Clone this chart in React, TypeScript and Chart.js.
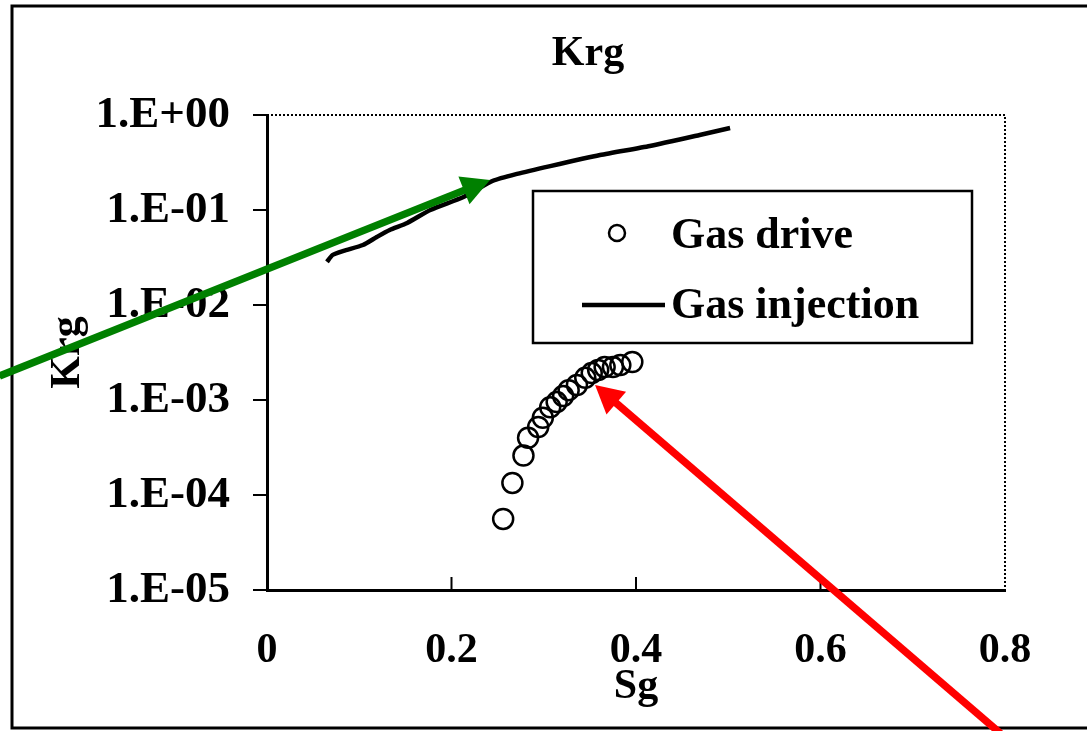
import React, { useEffect, useRef } from "react";
import { Chart, registerables } from "chart.js";

Chart.register(...registerables);

// ---- data ----
const sgDrive = [0.256, 0.266, 0.278, 0.283, 0.294, 0.299, 0.307, 0.314, 0.321, 0.327, 0.336, 0.345, 0.352, 0.359, 0.366, 0.375, 0.383, 0.396];
const krgDrive = [5.6e-5, 1.34e-4, 2.6e-4, 4.0e-4, 5.2e-4, 6.5e-4, 8.4e-4, 9.5e-4, 1.1e-3, 1.27e-3, 1.44e-3, 1.71e-3, 1.92e-3, 2.07e-3, 2.22e-3, 2.22e-3, 2.33e-3, 2.51e-3];

const sgInjection = [0.065, 0.071, 0.083, 0.104, 0.119, 0.133, 0.152, 0.177, 0.213, 0.245, 0.271, 0.307, 0.361, 0.415, 0.469, 0.502];
const krgInjection = [0.0284, 0.0336, 0.0372, 0.0428, 0.052, 0.0616, 0.073, 0.1, 0.137, 0.203, 0.24, 0.29, 0.379, 0.472, 0.616, 0.73];

const seriesNames = ["Gas drive", "Gas injection"];
const xTicks = [0, 0.2, 0.4, 0.6, 0.8];
const yTicks = [1e-5, 1e-4, 1e-3, 1e-2, 1e-1, 1];
const chartTitle = "Krg";
const xTitle = "Sg";
const yTitle = "Krg";

// annotation arrows (data coordinates)
const arrowColors = ["#008000", "#ff0000"];
const arrowFromSg = [-0.29, 0.795];
const arrowFromKrg = [1.79e-3, 3.1e-7];
const arrowToSg = [0.2417, 0.3556];
const arrowToKrg = [0.207, 1.44e-3];

const FONT = "'Liberation Serif', 'Times New Roman', serif";

function fmtExp(v: number): string {
  const e = Math.round(Math.log10(v));
  const sign = e < 0 ? "-" : "+";
  return "1.E" + sign + String(Math.abs(e)).padStart(2, "0");
}

function drawArrow(ctx: CanvasRenderingContext2D, x1: number, y1: number, x2: number, y2: number, color: string) {
  const dx = x2 - x1;
  const dy = y2 - y1;
  const len = Math.hypot(dx, dy);
  const ux = dx / len;
  const uy = dy / len;
  const headL = 28;
  const headW = 15;
  const bx = x2 - ux * headL;
  const by = y2 - uy * headL;
  ctx.save();
  ctx.strokeStyle = color;
  ctx.fillStyle = color;
  ctx.lineWidth = 7.5;
  ctx.lineCap = "butt";
  ctx.beginPath();
  ctx.moveTo(x1, y1);
  ctx.lineTo(bx + ux * 2, by + uy * 2);
  ctx.stroke();
  ctx.beginPath();
  ctx.moveTo(x2, y2);
  ctx.lineTo(bx - uy * headW, by + ux * headW);
  ctx.lineTo(bx + uy * headW, by - ux * headW);
  ctx.closePath();
  ctx.fill();
  ctx.restore();
}

const decorPlugin = {
  id: "decor",
  afterDraw(chart: any) {
    const { ctx, chartArea: ca, scales } = chart;
    const xs = scales.x;
    const ys = scales.y;
    ctx.save();
    ctx.strokeStyle = "#000";
    ctx.fillStyle = "#000";

    // outer frame
    ctx.lineWidth = 3;
    ctx.strokeRect(12, 6, 1100, 722);

    // dotted top / right plot border
    ctx.lineWidth = 2;
    ctx.setLineDash([2, 2]);
    ctx.beginPath();
    ctx.moveTo(ca.left, ca.top);
    ctx.lineTo(ca.right, ca.top);
    ctx.lineTo(ca.right, ca.bottom);
    ctx.stroke();
    ctx.setLineDash([]);

    // inward x ticks
    xTicks.slice(1, -1).forEach((v) => {
      const px = xs.getPixelForValue(v);
      ctx.beginPath();
      ctx.moveTo(px, ca.bottom);
      ctx.lineTo(px, ca.bottom - 13);
      ctx.stroke();
    });

    // title
    ctx.font = `bold 42px ${FONT}`;
    ctx.textAlign = "center";
    ctx.textBaseline = "alphabetic";
    ctx.fillText(chartTitle, 588, 65);

    // legend box
    ctx.lineWidth = 2.5;
    ctx.strokeRect(533, 191, 439, 152);
    ctx.beginPath();
    ctx.lineWidth = 2.5;
    ctx.arc(617, 233, 8, 0, Math.PI * 2);
    ctx.stroke();
    ctx.beginPath();
    ctx.lineWidth = 4.5;
    ctx.moveTo(582, 305);
    ctx.lineTo(665, 305);
    ctx.stroke();
    ctx.font = `bold 44px ${FONT}`;
    ctx.textAlign = "left";
    ctx.fillText(seriesNames[0], 671, 248);
    ctx.fillText(seriesNames[1], 671, 318);
    ctx.restore();

    // arrows
    for (let i = 0; i < arrowColors.length; i++) {
      drawArrow(
        ctx,
        xs.getPixelForValue(arrowFromSg[i]),
        ys.getPixelForValue(arrowFromKrg[i]),
        xs.getPixelForValue(arrowToSg[i]),
        ys.getPixelForValue(arrowToKrg[i]),
        arrowColors[i]
      );
    }
  },
};

export default function App() {
  const ref = useRef<HTMLCanvasElement | null>(null);
  useEffect(() => {
    if (!ref.current) return;
    const chart = new Chart(ref.current, {
      type: "scatter",
      data: {
        datasets: [
          {
            label: seriesNames[0],
            data: sgDrive.map((x, i) => ({ x, y: krgDrive[i] })),
            showLine: false,
            pointStyle: "circle",
            pointRadius: 10,
            pointBorderWidth: 2.5,
            borderColor: "#000",
            pointBorderColor: "#000",
            backgroundColor: "rgba(0,0,0,0)",
            pointBackgroundColor: "rgba(0,0,0,0)",
          },
          {
            label: seriesNames[1],
            data: sgInjection.map((x, i) => ({ x, y: krgInjection[i] })),
            showLine: true,
            borderColor: "#000",
            borderWidth: 4.5,
            pointRadius: 0,
            tension: 0.2,
          },
        ],
      },
      options: {
        responsive: false,
        animation: false,
        layout: { padding: { left: 0, top: 115, right: 82, bottom: 0 } },
        plugins: {
          legend: { display: false },
          tooltip: { enabled: false },
          title: { display: false },
        },
        scales: {
          x: {
            type: "linear",
            min: 0,
            max: 0.8,
            afterBuildTicks: (s: any) => {
              s.ticks = xTicks.map((v) => ({ value: v }));
            },
            afterFit: (s: any) => {
              s.height = 141;
            },
            ticks: {
              callback: (v: any) => (Number(v) === 0 ? "0" : Number(v).toFixed(1)),
              font: { family: FONT, size: 42, weight: "bold" },
              color: "#000",
              padding: 36,
              autoSkip: false,
              maxRotation: 0,
            },
            grid: { display: true, drawOnChartArea: false, drawTicks: false, tickLength: 0, color: "#000" },
            border: { display: true, color: "#000", width: 3 },
            title: {
              display: true,
              text: xTitle,
              color: "#000",
              font: { family: FONT, size: 42, weight: "bold" },
              padding: { top: 0, bottom: 19 },
            },
          },
          y: {
            type: "logarithmic",
            min: 1e-5,
            max: 1,
            afterBuildTicks: (s: any) => {
              s.ticks = yTicks.map((v) => ({ value: v }));
            },
            afterFit: (s: any) => {
              s.width = 267;
            },
            ticks: {
              callback: (v: any) => fmtExp(Number(v)),
              font: { family: FONT, size: 45, weight: "bold" },
              color: "#000",
              padding: 23,
              autoSkip: false,
            },
            grid: { display: true, drawOnChartArea: false, drawTicks: true, tickLength: 14, color: "#000", lineWidth: 2 },
            border: { display: true, color: "#000", width: 3 },
            title: {
              display: true,
              text: yTitle,
              color: "#000",
              font: { family: FONT, size: 42, weight: "bold" },
              padding: { top: 43, bottom: 0 },
            },
          },
        },
      },
      plugins: [decorPlugin],
    } as any);
    return () => chart.destroy();
  }, []);

  return (
    <div style={{ position: "fixed", left: 0, top: 0, width: 1087, height: 731, background: "#fff" }}>
      <canvas ref={ref} width={1087} height={731} style={{ display: "block" }} />
    </div>
  );
}
